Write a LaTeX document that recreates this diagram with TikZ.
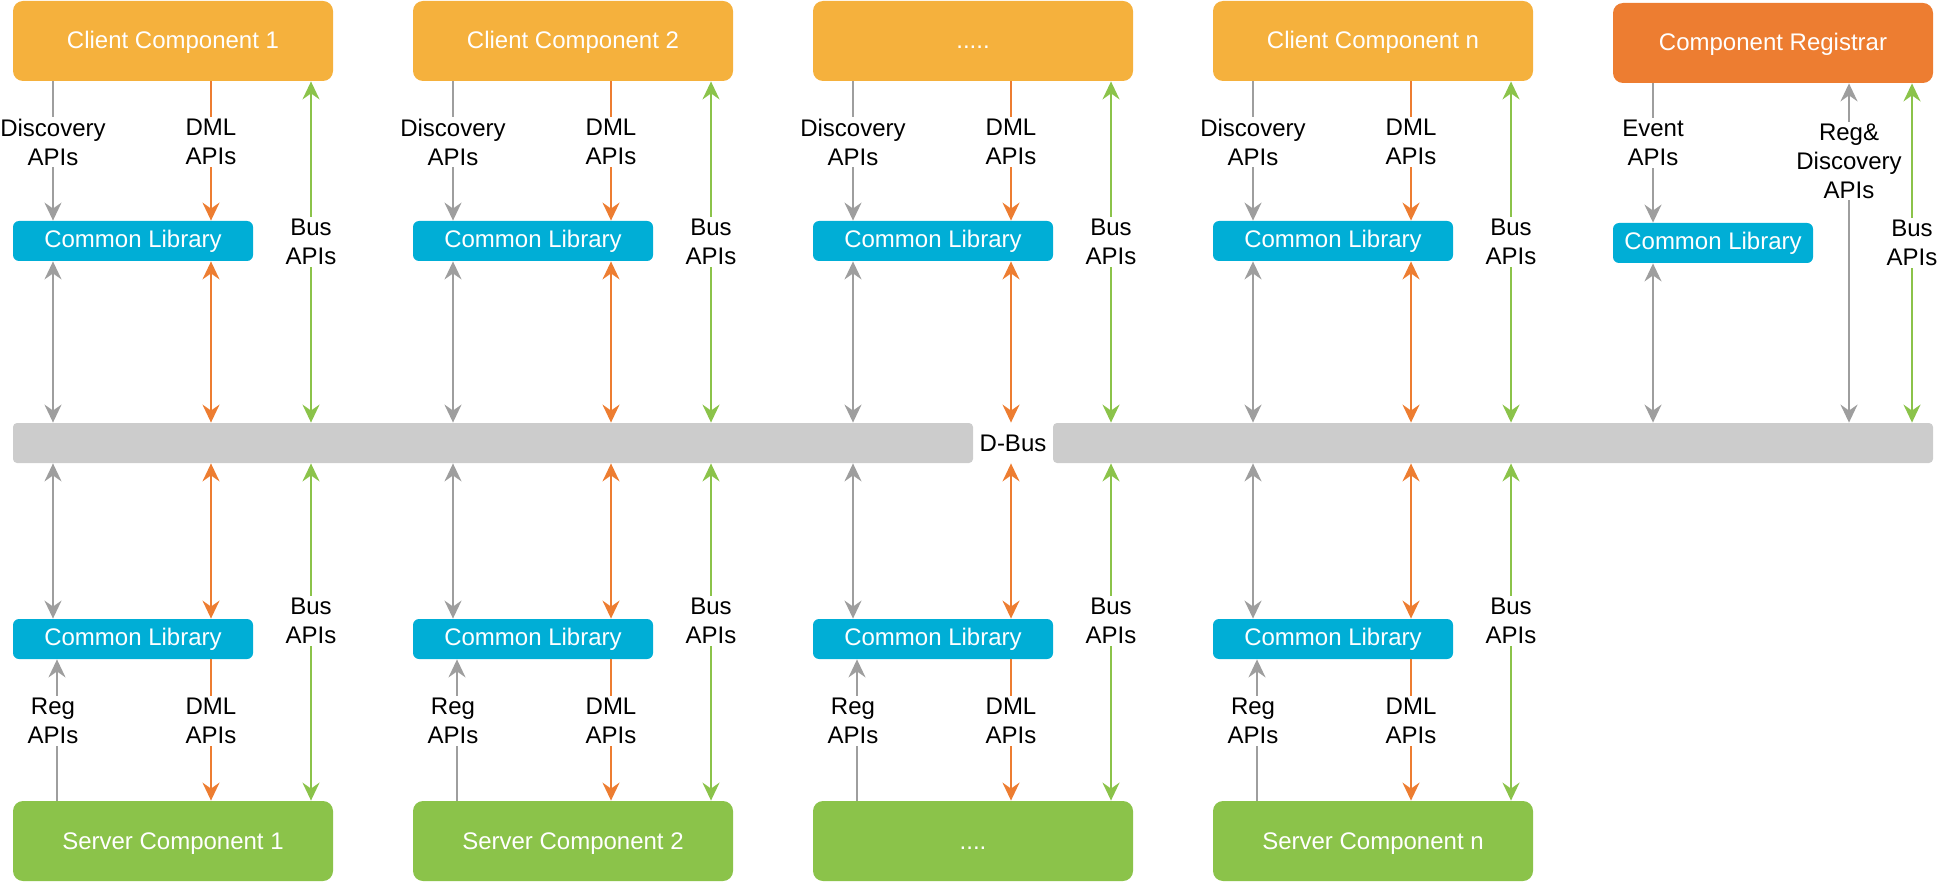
\documentclass[tikz,border=0pt]{standalone}
\usepackage{fontspec}
\setmainfont{Liberation Sans}
\usetikzlibrary{arrows.meta}
\definecolor{clientc}{HTML}{F5B13D}
\definecolor{regc}{HTML}{ED7D31}
\definecolor{libc}{HTML}{00AED6}
\definecolor{serverc}{HTML}{8BC34A}
\definecolor{busc}{HTML}{CCCCCC}
\definecolor{greyarr}{HTML}{9E9E9E}
\definecolor{orarr}{HTML}{ED7D31}
\definecolor{grarr}{HTML}{8BC34A}
\begin{document}
\begin{tikzpicture}[x=0.5pt,y=-0.5pt,
  txt/.style={font=\fontsize{12}{14.5}\selectfont},
  bigbox/.style={txt, rounded corners=5pt, inner sep=0pt, text=white, minimum width=160pt, minimum height=40pt, text height=8pt, text depth=0pt},
  clientbox/.style={bigbox, fill=clientc},
  regbox/.style={bigbox, fill=regc},
  serverbox/.style={bigbox, fill=serverc},
  libbox/.style={txt, rounded corners=3pt, inner sep=0pt, text=white, fill=libc, minimum width=120pt, minimum height=20pt},
  busbox/.style={rounded corners=2pt, inner sep=0pt, fill=busc, minimum height=20pt},
  lbl/.style={txt, fill=white, align=center, inner sep=1pt, text=black},
  ga/.style={draw=greyarr, line width=1pt, -{Stealth[length=9pt,width=8.5pt,inset=3pt]}},
  gab/.style={draw=greyarr, line width=1pt, {Stealth[length=9pt,width=8.5pt,inset=3pt]}-{Stealth[length=9pt,width=8.5pt,inset=3pt]}},
  oa/.style={draw=orarr, line width=1pt, -{Stealth[length=9pt,width=8.5pt,inset=3pt]}},
  oab/.style={draw=orarr, line width=1pt, {Stealth[length=9pt,width=8.5pt,inset=3pt]}-{Stealth[length=9pt,width=8.5pt,inset=3pt]}},
  grab/.style={draw=grarr, line width=1pt, {Stealth[length=9pt,width=8.5pt,inset=3pt]}-{Stealth[length=9pt,width=8.5pt,inset=3pt]}}
]
\useasboundingbox (0,0) rectangle (1954,882);

% bus
\node[busbox, minimum width=480pt] (busL) at (493,443) {};
\node[busbox, minimum width=440pt] (busR) at (1493,443) {};
\node[txt, inner sep=0pt, minimum width=40pt, minimum height=20pt] (dbus) at (1013,443) {D-Bus};

% client/server columns
\foreach \i/\dx/\bg/\bo/\bgr/\ctext/\stext in {
  1/0/busL/busL/busL/{Client Component 1}/{Server Component 1},
  2/400/busL/busL/busL/{Client Component 2}/{Server Component 2},
  3/800/busL/dbus/busR/{.....}/{....},
  4/1200/busR/busR/busR/{Client Component n}/{Server Component n}}{
  \node[clientbox] (c\i) at ({173+\dx},41) {\ctext};
  \node[libbox] (l\i) at ({133+\dx},241) {Common Library};
  \node[libbox] (L\i) at ({133+\dx},639) {Common Library};
  \node[serverbox] (s\i) at ({173+\dx},841) {\stext};
  \coordinate (g\i) at ({53+\dx},0);
  \coordinate (o\i) at ({211+\dx},0);
  \coordinate (gr\i) at ({311+\dx},0);
  \coordinate (r\i) at ({57+\dx},0);
  % upper
  \draw[ga] (c\i.south -| g\i) -- (l\i.north -| g\i);
  \draw[oa] (c\i.south -| o\i) -- (l\i.north -| o\i);
  \draw[grab] (\bgr.north -| gr\i) -- (c\i.south -| gr\i);
  \draw[gab] (l\i.south -| g\i) -- (\bg.north -| g\i);
  \draw[oab] (l\i.south -| o\i) -- (\bo.north -| o\i);
  % lower
  \draw[gab] (\bg.south -| g\i) -- (L\i.north -| g\i);
  \draw[oab] (\bo.south -| o\i) -- (L\i.north -| o\i);
  \draw[grab] (\bgr.south -| gr\i) -- (s\i.north -| gr\i);
  \draw[ga] (s\i.north -| r\i) -- (L\i.south -| r\i);
  \draw[oa] (L\i.south -| o\i) -- (s\i.north -| o\i);
  % labels
  \node[lbl] (ld\i) at ({53+\dx},142) {Discovery\\APIs};
  \node[lbl] (lm\i) at ({211+\dx},142) {DML\\APIs};
  \node[lbl] (lb\i) at ({311+\dx},242) {Bus\\APIs};
  \node[lbl] (lB\i) at ({311+\dx},621) {Bus\\APIs};
  \node[lbl] (lr\i) at ({53+\dx},721) {Reg\\APIs};
  \node[lbl] (lM\i) at ({211+\dx},721) {DML\\APIs};
}

% registrar column
\node[regbox] (reg) at (1773,43) {Component Registrar};
\node[libbox, minimum width=100pt] (rl) at (1713,243) {Common Library};
\coordinate (ev) at (1653,0);
\coordinate (rd) at (1849,0);
\coordinate (rg) at (1912,0);
\draw[ga] (reg.south -| ev) -- (rl.north -| ev);
\draw[gab] (rl.south -| ev) -- (busR.north -| ev);
\draw[gab] (busR.north -| rd) -- (reg.south -| rd);
\draw[grab] (busR.north -| rg) -- (reg.south -| rg);
\node[lbl] (lev) at (1653,143) {Event\\APIs};
\node[lbl] (lrd) at (1849,161) {Reg\&\\Discovery\\APIs};
\node[lbl] (lrb) at (1912,243) {Bus\\APIs};
\end{tikzpicture}
\end{document}
